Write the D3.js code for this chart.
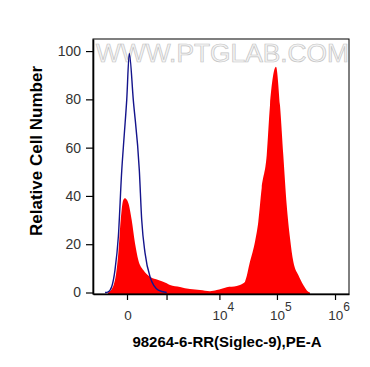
<!DOCTYPE html>
<html>
<head>
<meta charset="utf-8">
<script src="https://cdn.jsdelivr.net/npm/d3@7"></script>
<style>
  body { margin: 0; background: #fff; }
  svg { display: block; font-family: "Liberation Sans", Arial, sans-serif; }
</style>
</head>
<body>
<svg id="chart" width="370" height="367"></svg>
<script>
// sample histogram (red, filled)
var redX = [-296, -254, -161, -108, -75, -42, -22, 14, 54, 98, 149, 239, 393, 648, 1008, 1186, 1891, 2938, 4497, 6808, 8956, 13435, 20098, 26179, 28010, 34220, 41760, 47650, 54540, 66560, 75870, 96310, 112860, 128720, 147290, 167850, 191370, 233330, 284520, 346900, 371000];
var redY = [0, 0.5, 5.2, 16.4, 30.0, 38.3, 39.0, 37.1, 30.0, 20.5, 13.5, 9.3, 6.5, 5.2, 3.8, 3.1, 2.3, 1.4, 1.0, 0.5, 1.0, 2.2, 2.7, 3.8, 4.5, 12.8, 21.0, 29.3, 43.3, 56.9, 77.6, 93.5, 77.6, 56.9, 36.2, 22.6, 12.8, 7.2, 3.1, 0.3, 0];
// isotype control (blue line)
var blueX = [-366, -290, -220, -161, -108, -62, -31, -3, 25, 75, 166, 209, 275, 393, 648, 1008];
var blueY = [0, 0.3, 2.4, 9.3, 23.1, 50, 65, 79.7, 99.0, 79.7, 50.7, 30.0, 16.4, 6.5, 1.0, 0];

var yMajor = [0, 20, 40, 60, 80, 100];
var xLabels = [{v: 0, t: "0"}, {v: 1e4, t: "10", e: "4"}, {v: 1e5, t: "10", e: "5"}, {v: 1e6, t: "10", e: "6"}];
var xMajorTicks = [0, 1e3, 1e4, 1e5, 1e6];
var xTitle = "98264-6-RR(Siglec-9),PE-A";
var yTitle = "Relative Cell Number";

var svg = d3.select("#chart");
var L = 93, R = 349, T = 39, B = 294;

var x = d3.scaleSymlog().constant(264).domain([-751, 1.74e6]).range([L, R]);
var y = d3.scaleLinear().domain([-0.62, 105]).range([B, T]);

// minor ticks
var xMinor = [];
for (var i = 1; i <= 7; i++) xMinor.push(-i * 100);
[100, 1e3, 1e4, 1e5].forEach(function(d){
    for (var k = (d == 100 ? 1 : 2); k <= 9; k++) if (d * k != 1e3) xMinor.push(d * k);
});
var yMinor = d3.range(5, 106, 5).filter(function(d){ return d % 20 != 0; });

/*
    watermark
*/
svg.append("text")
    .attr("x", 96).attr("y", 62)
    .attr("textLength", 253).attr("lengthAdjust", "spacingAndGlyphs")
    .style("font-size", "26px")
    .attr("fill", "#f4f4f4").attr("stroke", "#c4c4c4").attr("stroke-width", 0.7)
    .text("WWW.PTGLAB.COM");

/*
    histograms
*/
var red = redX.map(function(d, i){ return [d, redY[i]]; });
var blue = blueX.map(function(d, i){ return [d, blueY[i]]; });

svg.append("path")
    .datum(red)
    .attr("fill", "#ff0000")
    .attr("d", d3.area()
        .x(function(d){ return x(d[0]); })
        .y0(B)
        .y1(function(d){ return y(d[1]); })
        .curve(d3.curveMonotoneX));

svg.append("path")
    .datum(blue)
    .attr("fill", "none")
    .attr("stroke", "#14148c")
    .attr("stroke-width", 1.4)
    .attr("d", d3.line()
        .x(function(d){ return x(d[0]); })
        .y(function(d){ return y(d[1]); })
        .curve(d3.curveMonotoneX));

/*
    frame + axes
*/
svg.append("rect")
    .attr("x", L).attr("y", T).attr("width", R - L).attr("height", B - T)
    .attr("fill", "none").attr("stroke", "#000").attr("stroke-width", 1);

var gy = svg.append("g").attr("transform", "translate(" + L + ",0)");
gy.call(d3.axisLeft(y).tickValues(yMinor).tickSize(4).tickFormat("").tickSizeOuter(0));
gy.call(d3.axisLeft(y).tickValues(yMajor).tickSize(7).tickPadding(5).tickSizeOuter(0));
gy.selectAll("path.domain").attr("stroke-width", 1.6);
gy.selectAll("line").attr("stroke-width", 1.2);
gy.selectAll("text").style("font-size", "14px").attr("fill", "#333").style("font-family", "Liberation Sans, Arial, sans-serif");

var gx = svg.append("g").attr("transform", "translate(0," + B + ")");
gx.call(d3.axisBottom(x).tickValues(xMinor).tickSize(3).tickFormat("").tickSizeOuter(0));
gx.call(d3.axisBottom(x).tickValues(xMajorTicks).tickSize(6).tickFormat("").tickSizeOuter(0));
gx.selectAll("path.domain").attr("stroke-width", 1.6);
gx.selectAll("line").attr("stroke-width", 1.2);

var lab = svg.append("g")
    .style("font-size", "13.5px").attr("fill", "#333");
xLabels.forEach(function(d){
    var t = lab.append("text")
        .attr("x", x(d.v) + (d.e ? 4 : 1)).attr("y", 320)
        .attr("text-anchor", "middle");
    t.append("tspan").text(d.t);
    if (d.e) t.append("tspan").attr("dy", -9).style("font-size", "12px").text(d.e);
});

// titles
svg.append("text")
    .attr("x", 227).attr("y", 347)
    .attr("text-anchor", "middle")
    .style("font-size", "15px").style("font-weight", "bold")
    .text(xTitle);

svg.append("text")
    .attr("transform", "translate(42,151) rotate(-90)")
    .attr("text-anchor", "middle")
    .style("font-size", "17px").style("font-weight", "bold")
    .text(yTitle);
</script>
</body>
</html>
